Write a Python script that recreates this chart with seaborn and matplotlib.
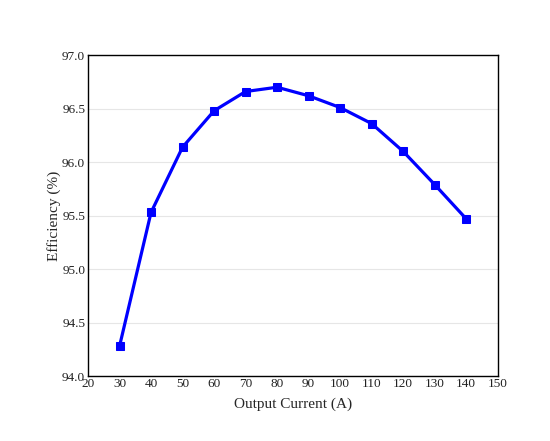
import pandas as pd
import seaborn as sns
import matplotlib.pyplot as plt

current = [30, 40, 50, 60, 70, 80, 90, 100, 110, 120, 130, 140]
efficiency = [94.28, 95.53, 96.14, 96.48, 96.66, 96.70, 96.62, 96.51, 96.36, 96.10, 95.79, 95.47]

df = pd.DataFrame({"current": current, "efficiency": efficiency})

sns.set_style("white")
plt.rcParams['font.family'] = ['Liberation Serif', 'DejaVu Serif']

fig = plt.figure(figsize=(5.5, 4.41), dpi=100)
ax = fig.add_axes([0.16, 0.147, 0.745, 0.728])

ax.grid(axis='y', color='#e6e6e6', linewidth=0.8)
ax.set_axisbelow(True)

sns.lineplot(data=df, x="current", y="efficiency", ax=ax,
             color='#0000ff', linewidth=2.3, marker='s', markersize=5.5,
             markeredgecolor='#0000ff')

ax.set_xlim(20, 150)
ax.set_ylim(94.0, 97.0)
ax.set_xticks(range(20, 151, 10))
ax.set_yticks([94.0, 94.5, 95.0, 95.5, 96.0, 96.5, 97.0])
ax.set_yticklabels([f"{v:.1f}" for v in ax.get_yticks()])
ax.tick_params(length=0, labelsize=9.5, pad=1, colors='#222222')
ax.tick_params(axis='y', pad=2)

for s in ax.spines.values():
    s.set_color('black')
    s.set_linewidth(1.0)

ax.set_xlabel("Output Current (A)", fontsize=11, labelpad=6)
ax.set_ylabel("Efficiency (%)", fontsize=11, labelpad=1)

fig.savefig("out.png", dpi=100)
